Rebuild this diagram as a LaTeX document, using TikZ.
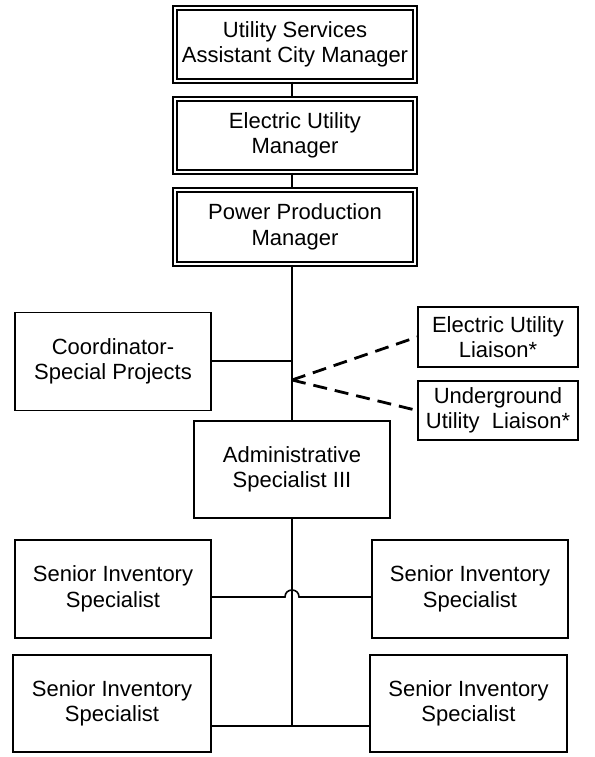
\documentclass[tikz,border=0pt]{standalone}
\usepackage{fontspec}
\setmainfont{Liberation Sans}
\begin{document}
\begin{tikzpicture}[x=1pt,y=-1pt,
  box/.style={draw=black, line width=1.6pt, rectangle, align=center, inner sep=0pt,
    font=\fontsize{22}{25.5}\selectfont},
  dbox/.style={box, line width=1.5pt, double, double distance=2.4pt},
  conn/.style={draw=black, line width=1.6pt},
  dconn/.style={draw=black, line width=2.8pt, dash pattern=on 14pt off 8pt}]
\useasboundingbox[fill=white] (0,0) rectangle (594,757);
\node[dbox, minimum width=240pt, minimum height=73pt] (b1) at (295,44.5) {Utility Services\\Assistant City Manager};
\node[dbox, minimum width=240pt, minimum height=73pt] (b2) at (295,135.5) {Electric Utility\\Manager};
\node[dbox, minimum width=240pt, minimum height=74pt] (b3) at (295,227) {Power Production\\Manager};
\node[box, minimum width=196pt, minimum height=98pt] (co) at (113,361.5) {Coordinator-\\Special Projects};
\node[box, minimum width=160pt, minimum height=60pt] (eu) at (498,337) {Electric Utility\\Liaison*};
\node[box, minimum width=160pt, minimum height=59pt] (ug) at (498,410.5) {Underground\\Utility\ \ Liaison*};
\node[box, minimum width=196pt, minimum height=97pt] (ad) at (292,469.5) {Administrative\\Specialist III};
\node[box, minimum width=196pt, minimum height=98pt] (s1l) at (113,589) {Senior Inventory\\Specialist};
\node[box, minimum width=196pt, minimum height=98pt] (s1r) at (470,589) {Senior Inventory\\Specialist};
\node[box, minimum width=198pt, minimum height=97pt] (s2l) at (112,703.5) {Senior Inventory\\Specialist};
\node[box, minimum width=197pt, minimum height=97pt] (s2r) at (468.5,703.5) {Senior Inventory\\Specialist};
\coordinate (sp) at (292,0);
\coordinate (jc) at (292,361);
\coordinate (jd) at (292,380);
\coordinate (h1) at (292,597);
\coordinate (h2) at (292,726);
\draw[conn] (b1.south -| sp) -- (b2.north -| sp);
\draw[conn] (b2.south -| sp) -- (b3.north -| sp);
\draw[conn] (b3.south -| sp) -- (ad.north -| sp);
\draw[conn] (co.east |- jc) -- (jc);
\draw[dconn] (jd) -- (eu.west);
\draw[dconn] (jd) -- (ug.west);
\draw[conn] (ad.south -| sp) -- (h2);
\draw[conn] (s1l.east |- h1) -- (285,597) .. controls (285,587.7) and (299,587.7) .. (299,597) -- (s1r.west |- h1);
\draw[conn] (s2l.east |- h2) -- (s2r.west |- h2);
\end{tikzpicture}
\end{document}
